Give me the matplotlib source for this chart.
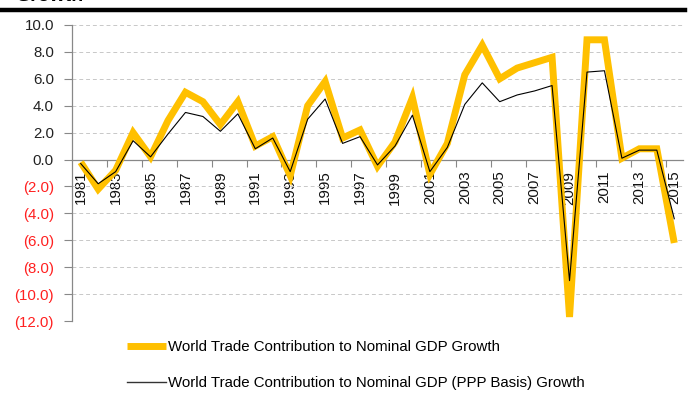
import matplotlib
matplotlib.use("Agg")
import matplotlib.pyplot as plt
from matplotlib.lines import Line2D
import numpy as np

plt.rcParams['font.family'] = ['Liberation Sans', 'DejaVu Sans']

years = list(range(1981, 2016))
trade_growth = [-0.2, -2.2, -0.8, 2.0, 0.2, 2.9, 5.0, 4.3, 2.6, 4.3,
                1.0, 1.7, -1.2, 4.0, 5.8, 1.6, 2.2, -0.5, 1.3, 4.6,
                -1.1, 1.2, 6.3, 8.5, 6.0, 6.8, 7.2, 7.6, -11.7, 8.9,
                8.9, 0.1, 0.8, 0.8, -6.2]
ppp_growth = [-0.3, -1.8, -0.9, 1.4, 0.2, 1.9, 3.5, 3.2, 2.1, 3.4,
              0.8, 1.6, -0.9, 3.0, 4.5, 1.2, 1.7, -0.4, 1.0, 3.3,
              -0.9, 0.9, 4.1, 5.7, 4.3, 4.8, 5.1, 5.5, -9.0, 6.5,
              6.6, 0.1, 0.7, 0.7, -4.4]
series_labels = ["World Trade Contribution to Nominal GDP Growth",
                 "World Trade Contribution to Nominal GDP (PPP Basis) Growth"]
yticks = [10, 8, 6, 4, 2, 0, -2, -4, -6, -8, -10, -12]
title = "Growth"

W, H = 692, 403
FS = 10.8
fig = plt.figure(figsize=(W / 100, H / 100), dpi=100)
ax = fig.add_axes([72 / W, 1 - 321 / H, 611 / W, (321 - 25) / H])

x = np.arange(len(years))
l1, = ax.plot(x, trade_growth, color='#FFC000', lw=5.0, solid_joinstyle='miter',
              solid_capstyle='butt', zorder=3)
l2, = ax.plot(x, ppp_growth, color='black', lw=0.8, zorder=4)

ax.set_xlim(-0.5, len(years) - 0.5)
ax.set_ylim(-12, 10)

# y axis
ax.set_yticks(yticks)
ylabels = []
for v in yticks:
    ylabels.append(f"({abs(v):.1f})" if v < 0 else f"{v:.1f}")
ax.set_yticklabels(ylabels, fontsize=FS)
for t, v in zip(ax.get_yticklabels(), yticks):
    t.set_color('#FF2020' if v < 0 else '#222222')
ax.tick_params(axis='y', direction='out', length=6, width=0.8, color='#888888', pad=7)
ax.yaxis.grid(True, linestyle=(0, (4, 3)), color='#C8C8C8', lw=0.7)
ax.set_axisbelow(True)

# x axis at zero
ax.spines['bottom'].set_position(('data', 0))
ax.spines['top'].set_visible(False)
ax.spines['right'].set_visible(False)
ax.spines['left'].set_color('#888888')
ax.spines['bottom'].set_color('#888888')
ax.spines['left'].set_linewidth(0.9)
ax.spines['bottom'].set_linewidth(0.9)

ax.set_xticks(np.arange(1.5, len(years) - 0.5, 2))
ax.set_xticklabels([])
ax.tick_params(axis='x', which='major', direction='out', length=5, width=0.8, color='#888888')
ax.set_xticks(x[::2], minor=True)
ax.set_xticklabels([str(y) for y in years[::2]], minor=True, rotation=90, fontsize=FS,
                   color='#111111')
ax.tick_params(axis='x', which='minor', length=0, pad=8)

# legend
leg = fig.legend([l1, l2], series_labels, loc='upper left',
                 bbox_to_anchor=(127 / W, 1 - 340 / H), frameon=False,
                 fontsize=FS, handlelength=2.6, handletextpad=0.1,
                 labelspacing=1.45, borderaxespad=0, borderpad=0)
leg.get_lines()[1].set_color('#333333')
leg.get_lines()[1].set_linewidth(1.0)

# title remnant and rule
fig.text(15 / W, 1 - 1 / H, title, fontsize=14, fontweight='bold', va='baseline', ha='left')
fig.add_artist(Line2D([0, 685 / W], [1 - 9.5 / H, 1 - 9.5 / H], color='black', lw=3.2,
                      transform=fig.transFigure))

fig.savefig("out.png", dpi=100)
